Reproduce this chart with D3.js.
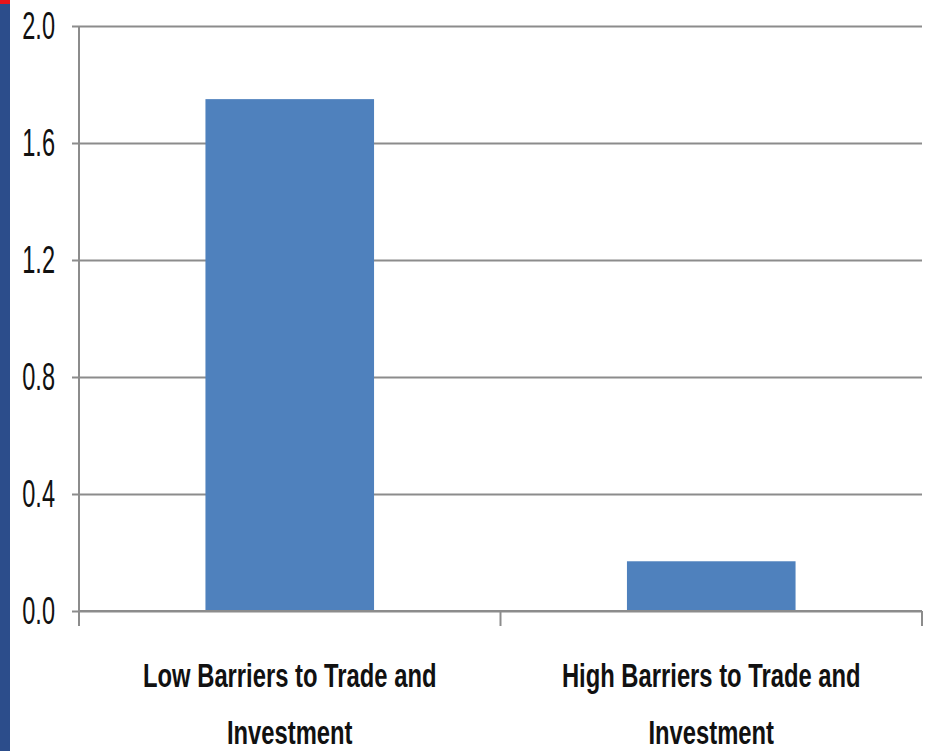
<!DOCTYPE html>
<html>
<head>
<meta charset="utf-8">
<script src="https://cdn.jsdelivr.net/npm/d3@7"></script>
<style>
  html, body { margin: 0; padding: 0; background: #fff; }
  svg { display: block; }
</style>
</head>
<body>
<svg id="chart" width="926" height="751"></svg>
<script>
// Chart data
const categories = [
  ["Low Barriers to Trade and", "Investment"],
  ["High Barriers to Trade and", "Investment"]
];
const values = [1.75, 0.17];
const yTicks = [0.0, 0.4, 0.8, 1.2, 1.6, 2.0];

const svg = d3.select("#chart");
const W = 926, H = 751;
const plot = { left: 79, right: 922, top: 26, bottom: 611 };

// Slide frame strip on the left edge
svg.append("rect").attr("x", 0).attr("y", 0).attr("width", 10).attr("height", H).attr("fill", "#2c4d8b");
svg.append("rect").attr("x", 0).attr("y", 0).attr("width", 10).attr("height", 4).attr("fill", "#e8141b");

const x = d3.scaleBand()
  .domain(d3.range(categories.length))
  .range([plot.left, plot.right])
  .paddingInner(0.6)
  .paddingOuter(0.3);

const y = d3.scaleLinear().domain([0, 2]).range([plot.bottom, plot.top]);

const gridColor = "#8c8c8c";

// Horizontal gridlines with short outer ticks
const yAxis = d3.axisLeft(y)
  .tickValues(yTicks)
  .tickFormat(d3.format(".1f"))
  .tickSize(-(plot.right - plot.left))
  .tickSizeOuter(0)
  .tickPadding(0);

const gy = svg.append("g").attr("transform", `translate(${plot.left},0)`).call(yAxis);
gy.select(".domain").remove();
gy.selectAll(".tick line")
  .attr("x1", -7)
  .attr("stroke", gridColor)
  .attr("stroke-width", 2);
gy.selectAll(".tick text").remove();

// Tick labels, narrow face
gy.selectAll(".tick").append("text")
  .attr("transform", "translate(-24,0) scale(0.62,1)")
  .attr("text-anchor", "end")
  .attr("dy", "0.34em")
  .attr("fill", "#111")
  .style("font-family", "'Liberation Sans', Arial, sans-serif")
  .style("font-size", "38px")
  .text(d => d3.format(".1f")(d));

// Bars
svg.append("g").selectAll("rect")
  .data(values)
  .join("rect")
  .attr("x", (d, i) => x(i))
  .attr("y", d => y(d))
  .attr("width", x.bandwidth())
  .attr("height", d => y(0) - y(d))
  .attr("fill", "#4f81bd");

// Vertical axis line
svg.append("line")
  .attr("x1", plot.left).attr("x2", plot.left)
  .attr("y1", plot.top).attr("y2", plot.bottom)
  .attr("stroke", gridColor).attr("stroke-width", 2);

// Category axis baseline and separator ticks
svg.append("line")
  .attr("x1", plot.left).attr("x2", plot.right)
  .attr("y1", plot.bottom).attr("y2", plot.bottom)
  .attr("stroke", gridColor).attr("stroke-width", 2);

const sepXs = [plot.left, plot.left + x.step(), plot.right];
svg.append("g").selectAll("line")
  .data(sepXs)
  .join("line")
  .attr("x1", d => d).attr("x2", d => d)
  .attr("y1", plot.bottom).attr("y2", plot.bottom + 15)
  .attr("stroke", gridColor).attr("stroke-width", 2);

// Category labels
const labelG = svg.append("g").selectAll("g")
  .data(categories)
  .join("g")
  .attr("transform", (d, i) => `translate(${x(i) + x.bandwidth() / 2},0)`);

labelG.selectAll("text")
  .data(d => d)
  .join("text")
  .attr("transform", (d, j) => `translate(0,${687 + j * 57}) scale(0.70,1)`)
  .attr("text-anchor", "middle")
  .attr("fill", "#111")
  .style("font-family", "'Liberation Sans', Arial, sans-serif")
  .style("font-weight", "bold")
  .style("font-size", "34px")
  .text(d => d);
</script>
</body>
</html>
